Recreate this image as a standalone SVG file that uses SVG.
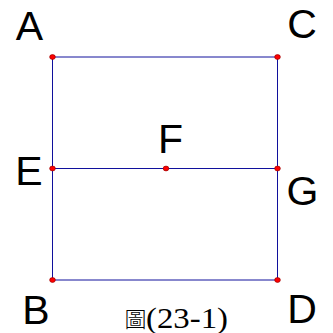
<svg xmlns="http://www.w3.org/2000/svg" width="333" height="333" viewBox="0 0 333 333">
<style>
.ln{stroke:#10109c;stroke-width:1;fill:none}
.pt{fill:#ff0000;stroke:#990000;stroke-width:0.7}
.lb{font-family:"Liberation Sans",Arial,sans-serif;font-size:41px;fill:#000;text-anchor:middle}
</style>
<rect width="333" height="333" fill="#fff"/>
<g id="connectors">
<line class="ln" x1="52.5" y1="57" x2="277.5" y2="57"/>
<line class="ln" x1="52.5" y1="168.5" x2="277.5" y2="168.5"/>
<line class="ln" x1="52.5" y1="280" x2="277.5" y2="280"/>
<line class="ln" x1="52.5" y1="57" x2="52.5" y2="280"/>
<line class="ln" x1="277.5" y1="57" x2="277.5" y2="280"/>
</g>
<g id="A"><ellipse class="pt" cx="52.5" cy="57" rx="2.8" ry="2.4"/><text class="lb" x="29.5" y="40">A</text></g>
<g id="C"><ellipse class="pt" cx="277.5" cy="57" rx="2.8" ry="2.4"/><text class="lb" x="302" y="38">C</text></g>
<g id="E"><ellipse class="pt" cx="52.5" cy="168.5" rx="2.8" ry="2.4"/><text class="lb" x="29" y="185">E</text></g>
<g id="F"><ellipse class="pt" cx="166" cy="168.5" rx="2.8" ry="2.4"/><text class="lb" x="170.5" y="153">F</text></g>
<g id="G"><ellipse class="pt" cx="277.5" cy="168.5" rx="2.8" ry="2.4"/><text class="lb" x="302.5" y="205">G</text></g>
<g id="B"><ellipse class="pt" cx="52.5" cy="280" rx="2.8" ry="2.4"/><text class="lb" x="36" y="324">B</text></g>
<g id="D"><ellipse class="pt" cx="277.5" cy="280" rx="2.8" ry="2.4"/><text class="lb" x="302" y="323">D</text></g>
<g id="caption">
<text x="124.5" y="327" font-family="'Noto Sans CJK TC','Noto Sans CJK SC',sans-serif" font-size="22" font-weight="300">圖</text>
<text x="146" y="328" font-family="'Liberation Serif','Times New Roman',serif" font-size="30" textLength="82" lengthAdjust="spacingAndGlyphs">(23-1)</text>
</g>
</svg>
